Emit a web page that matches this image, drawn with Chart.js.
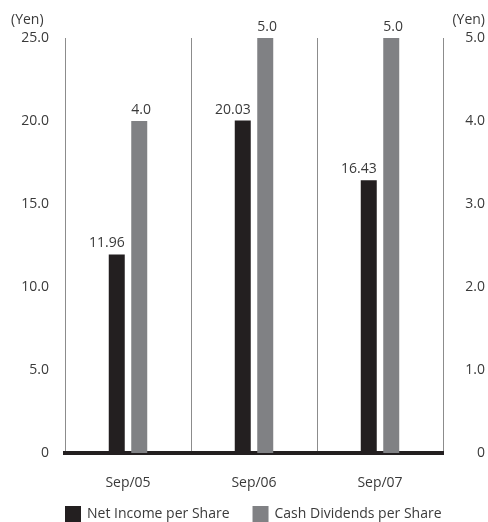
<!DOCTYPE html>
<html>
<head>
<meta charset="utf-8">
<script src="https://cdn.jsdelivr.net/npm/chart.js@4"></script>
<style>
  html, body { margin: 0; padding: 0; background: #fff; }
  #wrap { width: 488px; height: 522px; }
</style>
</head>
<body>
<div id="wrap"><canvas id="chart" width="488" height="522"></canvas></div>
<script>
const categories = ['Sep/05', 'Sep/06', 'Sep/07'];
const netIncome = [11.96, 20.03, 16.43];
const dividends = [4.0, 5.0, 5.0];
const leftTicks = [0, 5, 10, 15, 20, 25];
const rightTicks = [0, 1, 2, 3, 4, 5];

const textColor = '#3a3a3a';
const fontFamily = '"Open Sans", "DejaVu Sans", sans-serif';

Chart.defaults.font.family = fontFamily;
Chart.defaults.font.size = 14;
Chart.defaults.color = textColor;

const fmtTick = v => v === 0 ? '0' : v.toFixed(1);

// value labels: black ones flush right with bar, grey ones flush left
const valueLabels = {
    id: 'valueLabels',
    afterDatasetsDraw(chart) {
        const ctx = chart.ctx;
        ctx.save();
        ctx.font = '14px ' + fontFamily;
        ctx.fillStyle = textColor;
        ctx.textBaseline = 'alphabetic';
        chart.data.datasets.forEach((ds, i) => {
            chart.getDatasetMeta(i).data.forEach((bar, j) => {
                const w = bar.width;
                if (i === 0) {
                    ctx.textAlign = 'right';
                    ctx.fillText(ds.data[j].toFixed(2), bar.x + w / 2, bar.y - 7);
                } else {
                    ctx.textAlign = 'left';
                    ctx.fillText(ds.data[j].toFixed(1), bar.x - w / 2, bar.y - 7);
                }
            });
        });
        ctx.restore();
    }
};

// "(Yen)" captions and bottom legend
const extras = {
    id: 'extras',
    afterDraw(chart) {
        const ctx = chart.ctx;
        const area = chart.chartArea;
        ctx.save();
        ctx.font = '14px ' + fontFamily;
        ctx.fillStyle = textColor;
        ctx.textBaseline = 'middle';
        ctx.textAlign = 'left';
        ctx.fillText('(Yen)', 11, 20);
        ctx.textAlign = 'right';
        ctx.fillText('(Yen)', chart.scales.y1.right, 20);

        let x = area.left;
        const y = 506;
        chart.data.datasets.forEach(ds => {
            ctx.fillStyle = ds.backgroundColor;
            ctx.fillRect(x, y, 16, 16);
            ctx.fillStyle = textColor;
            ctx.textAlign = 'left';
            ctx.fillText(ds.label, x + 22, y + 8);
            x += 22 + ctx.measureText(ds.label).width + 23;
        });
        ctx.restore();
    }
};

new Chart(document.getElementById('chart'), {
    type: 'bar',
    data: {
        labels: categories,
        datasets: [
            {
                label: 'Net Income per Share',
                data: netIncome,
                backgroundColor: '#231f20',
                yAxisID: 'y',
                categoryPercentage: 0.357,
                barPercentage: 0.711
            },
            {
                label: 'Cash Dividends per Share',
                data: dividends,
                backgroundColor: '#808184',
                yAxisID: 'y1',
                categoryPercentage: 0.357,
                barPercentage: 0.711
            }
        ]
    },
    options: {
        responsive: false,
        animation: false,
        layout: { padding: { top: 38, left: 0, right: 3, bottom: 29 } },
        plugins: {
            legend: { display: false },
            tooltip: { enabled: false }
        },
        scales: {
            x: {
                z: 1,
                grid: { display: true, offset: true, color: '#8c8c8c', lineWidth: 1, drawTicks: false },
                border: { display: true, color: '#231f20', width: 4 },
                ticks: { padding: 22, color: textColor },
                afterFit(scale) { scale.height = 40; }
            },
            y: {
                position: 'left',
                min: 0,
                max: 25,
                afterBuildTicks(scale) { scale.ticks = leftTicks.map(v => ({ value: v })); },
                ticks: { padding: 16, callback: fmtTick },
                grid: { display: false, drawTicks: false },
                border: { display: false },
                afterFit(scale) { scale.width = 65; }
            },
            y1: {
                position: 'right',
                min: 0,
                max: 5,
                afterBuildTicks(scale) { scale.ticks = rightTicks.map(v => ({ value: v })); },
                ticks: { crossAlign: 'far', callback: fmtTick },
                grid: { display: false, drawTicks: false },
                border: { display: false },
                afterFit(scale) { scale.width = 42; }
            }
        }
    },
    plugins: [valueLabels, extras]
});
</script>
</body>
</html>
